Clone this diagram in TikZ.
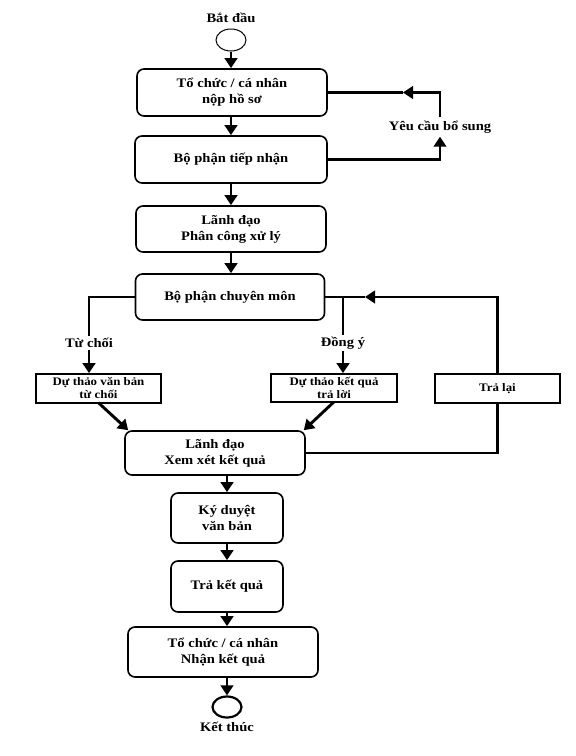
\documentclass[tikz,border=0pt]{standalone}
\usepackage{fontspec}
\setmainfont{Liberation Serif}[FakeStretch=1.12]
\usepackage{tikz}
\usetikzlibrary{arrows.meta,positioning,shapes.geometric}

\begin{document}
\begin{tikzpicture}[
  x=1pt, y=-1pt,
  font=\bfseries\fontsize{13}{16}\selectfont,
  stagebox/.style={draw, line width=1.6pt, rounded corners=7pt, align=center, inner sep=2pt},
  draftbox/.style={draw, line width=1.6pt, align=center, inner sep=1pt, font=\bfseries\fontsize{11.5}{13}\selectfont},
  terminal/.style={draw, ellipse, inner sep=0pt},
  arrow/.style={-{Triangle[length=10pt,width=12.5pt]}, line width=2.9pt},
  link/.style={line width=2.9pt},
  tag/.style={fill=white, inner sep=2pt}
]
  \useasboundingbox (0,0) rectangle (576,756);

  \node (startlbl) at (231,18) {Bắt đầu};
  \node[terminal, line width=1pt, minimum width=30pt, minimum height=22pt] (start) at (231,40) {};
  \node[stagebox, minimum width=190pt, minimum height=47pt] (nop) at (232,92.5) {Tổ chức / cá nhân\\nộp hồ sơ};
  \node[stagebox, minimum width=192pt, minimum height=47pt] (tiepnhan) at (231,159.5) {Bộ phận tiếp nhận};
  \node (yeucau) at (440,127) {Yêu cầu bổ sung};
  \node[stagebox, minimum width=190pt, minimum height=46pt] (phancong) at (231,229) {Lãnh đạo\\Phân công xử lý};
  \node[stagebox, minimum width=189pt, minimum height=46pt] (chuyenmon) at (230,297) {Bộ phận chuyên môn};
  \node[draftbox, minimum width=125pt, minimum height=29pt] (tuchoi) at (98.5,388.5) {Dự thảo văn bản\\từ chối};
  \node[draftbox, minimum width=126pt, minimum height=28pt] (dongy) at (334,388) {Dự thảo kết quả\\trả lời};
  \node[draftbox, minimum width=125pt, minimum height=29pt] (tralai) at (497.5,388.5) {Trả lại};
  \node[stagebox, minimum width=180pt, minimum height=44pt] (xemxet) at (215,453) {Lãnh đạo\\Xem xét kết quả};
  \node[stagebox, minimum width=112pt, minimum height=50pt] (kyduyet) at (227,518) {Ký duyệt\\văn bản};
  \node[stagebox, minimum width=112pt, minimum height=51pt] (traketqua) at (227,586.5) {Trả kết quả};
  \node[stagebox, minimum width=190pt, minimum height=50pt] (nhan) at (223,652) {Tổ chức / cá nhân\\Nhận kết quả};
  \node[terminal, line width=2.2pt, minimum width=29pt, minimum height=21pt] (end) at (227,707) {};
  \node[below=0pt of end] (endlbl) {Kết thúc};

  \coordinate (backnop) at (403,92.5);
  \coordinate (jright) at (343,297);
  \coordinate (backcm) at (365,297);

  \draw[arrow] (start) -- (start |- nop.north);
  \draw[arrow] (nop.south -| start) -- (start |- tiepnhan.north);
  \draw[arrow] (tiepnhan.east) -| (yeucau.south);
  \draw[arrow] (yeucau.north) |- (backnop);
  \draw[link] (backnop) -- (nop.east);
  \draw[arrow] (tiepnhan) -- (phancong);
  \draw[arrow] (phancong.south) -- (phancong.south |- chuyenmon.north);
  \draw[arrow] (chuyenmon.west) -| node[tag, pos=0.8] {Từ chối} ([xshift=-9.5pt]tuchoi.north);
  \draw[link] (chuyenmon.east) -- (jright);
  \draw[arrow] (jright) -- node[tag, pos=0.6] {Đồng ý} (jright |- dongy.north);
  \draw[arrow] (tralai.north) |- (backcm);
  \draw[link] (backcm) -- (jright);
  \draw[arrow] ([yshift=1pt]tuchoi.south) -- ([xshift=4pt]xemxet.north west);
  \draw[arrow] ([yshift=1pt]dongy.south) -- ([xshift=-2pt]xemxet.north east);
  \draw[link] (xemxet.east) -| (tralai.south);
  \draw[arrow] (kyduyet.north |- xemxet.south) -- (kyduyet.north);
  \draw[arrow] (kyduyet) -- (traketqua);
  \draw[arrow] (traketqua.south) -- (traketqua.south |- nhan.north);
  \draw[arrow] (end.north |- nhan.south) -- (end.north);
\end{tikzpicture}
\end{document}
